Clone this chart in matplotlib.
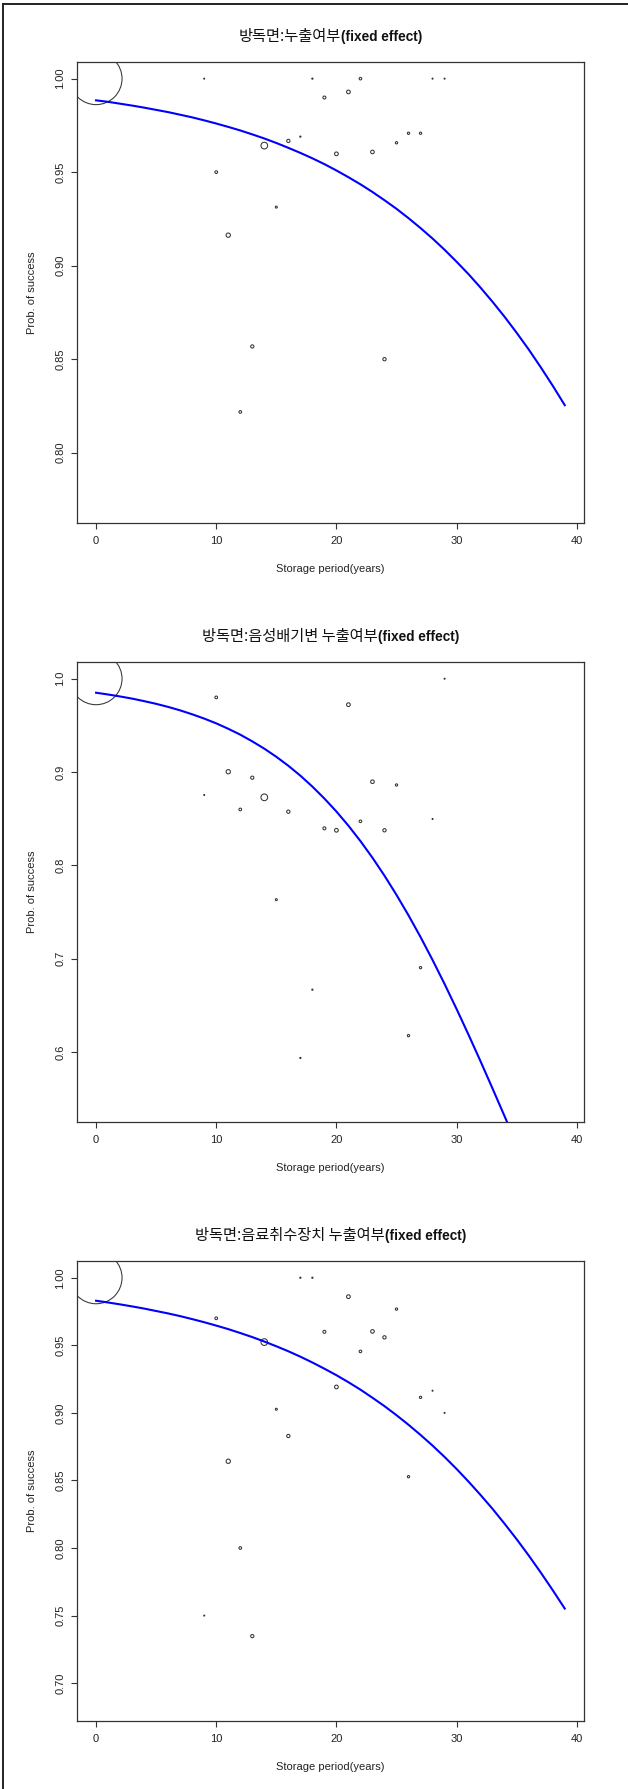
import matplotlib

matplotlib.use("Agg")

import matplotlib.pyplot as plt
import numpy as np
from matplotlib.lines import Line2D

plt.rcParams["font.family"] = ["Liberation Sans", "DejaVu Sans"]

# ── Data ────────────────────────────────────────────────────
years = [0, 9, 10, 11, 12, 13, 14, 15, 16, 17, 18, 19,
         20, 21, 22, 23, 24, 25, 26, 27, 28, 29]
# relative sample weight per year (drawn as symbol diameter)
weights = [52, 1, 2.7, 4.3, 2.7, 3.2, 6.7, 2, 3.3, 1.2, 1.2, 3,
           3.7, 3.7, 2.6, 3.6, 3.3, 2.3, 2.3, 2.3, 1, 1]

leak_all = [1.0, 1.0, 0.95, 0.9163, 0.8218, 0.8568, 0.9642, 0.9313, 0.9667, 0.969, 1.0, 0.9899,
            0.9598, 0.9929, 1.0, 0.9608, 0.85, 0.9657, 0.9708, 0.9708, 1.0, 1.0]
leak_valve = [1.0, 0.8755, 0.98, 0.9004, 0.86, 0.894, 0.873, 0.7634, 0.8576, 0.5939, 0.667, 0.8398,
              0.8377, 0.9722, 0.8473, 0.8897, 0.8377, 0.8862, 0.6178, 0.6906, 0.8498, 1.0]
leak_drink = [1.0, 0.75, 0.97, 0.8642, 0.80, 0.7348, 0.9524, 0.9027, 0.8829, 1.0, 1.0, 0.96,
              0.9192, 0.986, 0.9455, 0.9603, 0.9559, 0.9768, 0.8528, 0.9115, 0.9164, 0.90]

# fixed-effect fitted curves, read at every year 0..39
curve_years = list(range(40))
fit_all = [0.9884, 0.9876, 0.9866, 0.9856, 0.9845, 0.9833, 0.9821, 0.9807, 0.9793, 0.9777,
           0.9760, 0.9742, 0.9723, 0.9702, 0.9680, 0.9656, 0.9630, 0.9603, 0.9574, 0.9543,
           0.9509, 0.9473, 0.9435, 0.9394, 0.9350, 0.9304, 0.9254, 0.9201, 0.9145, 0.9085,
           0.9021, 0.8954, 0.8882, 0.8806, 0.8726, 0.8641, 0.8552, 0.8457, 0.8358, 0.8254]
fit_valve = [0.9850, 0.9831, 0.9810, 0.9787, 0.9760, 0.9731, 0.9698, 0.9661, 0.9619, 0.9573,
             0.9522, 0.9464, 0.9401, 0.9329, 0.9251, 0.9164, 0.9068, 0.8962, 0.8845, 0.8717,
             0.8578, 0.8426, 0.8261, 0.8083, 0.7891, 0.7685, 0.7466, 0.7234, 0.6988, 0.6731,
             0.6463, 0.6186, 0.5901, 0.5609, 0.5313, 0.5015, 0.4717, 0.4421, 0.4128, 0.3842]
fit_drink = [0.9830, 0.9817, 0.9803, 0.9788, 0.9772, 0.9754, 0.9736, 0.9716, 0.9694, 0.9671,
             0.9646, 0.9620, 0.9591, 0.9561, 0.9528, 0.9493, 0.9456, 0.9416, 0.9373, 0.9327,
             0.9279, 0.9227, 0.9172, 0.9112, 0.9050, 0.8983, 0.8912, 0.8837, 0.8758, 0.8674,
             0.8585, 0.8491, 0.8392, 0.8289, 0.8179, 0.8065, 0.7945, 0.7819, 0.7688, 0.7552]

titles_kor = ["방독면:누출여부", "방독면:음성배기변 누출여부", "방독면:음료취수장치 누출여부"]
title_tag = "(fixed effect)"

yticks_all = [0.80, 0.85, 0.90, 0.95, 1.00]
yticks_valve = [0.6, 0.7, 0.8, 0.9, 1.0]
yticks_drink = [0.70, 0.75, 0.80, 0.85, 0.90, 0.95, 1.00]

# ── Figure / panel geometry (pixels) ────────────────────────
W, H = 628, 1789
fig = plt.figure(figsize=(W / 100, H / 100), dpi=100, facecolor="white")

ax_left, ax_right = 77.3, 583.5
panels = [
    (62, 523, leak_all, fit_all, yticks_all, "%.2f", (0.7624, 1.0089)),
    (662, 1122.3, leak_valve, fit_valve, yticks_valve, "%.1f", (0.525, 1.0179)),
    (1261, 1721, leak_drink, fit_drink, yticks_drink, "%.2f", (0.672, 1.0124)),
]

px_per_pt = 100 / 72
sizes = (np.array(weights) / px_per_pt) ** 2
dark = "#333333"

for top, bot, vals, fit, yt, fmt, ylim in panels:
    ax = fig.add_axes([ax_left / W, 1 - bot / H, (ax_right - ax_left) / W, (bot - top) / H])
    ax.scatter(years, vals, s=sizes, facecolors="none", edgecolors="#333333",
               linewidths=0.75, zorder=2)
    ax.plot(curve_years, fit, color="#0000ff", lw=1.5, zorder=3)

    ax.set_xlim(-1.56, 40.56)
    ax.set_ylim(*ylim)
    ax.set_xticks([0, 10, 20, 30, 40])
    ax.set_yticks(yt)
    ax.set_yticklabels([fmt % v for v in yt], rotation=90, va="center")

    for sp in ax.spines.values():
        sp.set_color(dark)
        sp.set_linewidth(0.9)
    ax.tick_params(length=4, width=0.8, color=dark, labelsize=8,
                   labelcolor="#222222", pad=5.5)
    ax.tick_params(axis="y", pad=4.5)

    ax.set_xlabel("Storage period(years)", fontsize=8, color="#222222")
    ax.xaxis.set_label_coords(0.5, -0.089)
    ax.set_ylabel("Prob. of success", fontsize=8, color="#222222")
    ax.yaxis.set_label_coords(-0.079, 0.5)

# ── Titles: Korean part regular, tag bold ───────────────────
fig.canvas.draw()
renderer = fig.canvas.get_renderer()
cx = (ax_left + ax_right) / 2
for (top, *_), kor in zip(panels, titles_kor):
    y_base = 1 - (top - 21) / H
    t1 = fig.text(0, y_base, kor, fontsize=11, family=["Noto Sans CJK KR", "DejaVu Sans"],
                  va="baseline", ha="left", color="#111111")
    t2 = fig.text(0, y_base, title_tag, fontsize=9.8, fontweight="bold",
                  va="baseline", ha="left", color="#111111")
    w1 = t1.get_window_extent(renderer).width
    w2 = t2.get_window_extent(renderer).width
    start = cx - (w1 + w2) / 2
    t1.set_x(start / W)
    t2.set_x((start + w1) / W)

# outer frame (left and top edges only)
fig.add_artist(Line2D([3.3 / W, 3.3 / W], [0, 1 - 4 / H], color="#222222", lw=1.4))
fig.add_artist(Line2D([3.3 / W, 1], [1 - 4 / H, 1 - 4 / H], color="#222222", lw=1.4))

fig.savefig("out.png", dpi=100, facecolor="white")
